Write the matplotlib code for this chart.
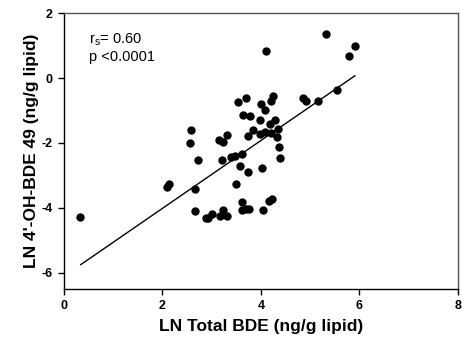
import matplotlib
matplotlib.use("Agg")
import matplotlib.pyplot as plt

# valores (LN Total BDE vs LN 4'-OH-BDE 49)
total_bde = [5.33, 4.11, 5.91, 5.79, 5.54, 5.15, 4.85, 4.91, 4.24, 4.20,
             3.70, 3.54, 4.00, 4.09, 3.63, 3.77, 3.99, 4.28, 4.18, 3.84,
             2.59, 4.35, 3.98, 4.08, 4.21, 3.74, 4.32, 3.32, 3.15, 3.23,
             2.55, 4.37, 2.72, 3.21, 3.47, 3.61, 3.40, 4.39, 3.57, 4.03,
             3.73, 0.33, 2.10, 2.14, 2.67, 3.49, 2.66, 2.88, 2.93, 3.00,
             3.17, 3.23, 3.32, 3.62, 3.61, 3.69, 3.76, 4.05, 4.16, 4.23]
oh_bde49 = [1.37, 0.84, 0.99, 0.68, -0.38, -0.70, -0.61, -0.72, -0.56, -0.72,
            -0.63, -0.74, -0.80, -0.99, -1.15, -1.16, -1.30, -1.29, -1.43, -1.60,
            -1.60, -1.58, -1.71, -1.67, -1.69, -1.80, -1.81, -1.75, -1.90, -1.98,
            -2.01, -2.12, -2.54, -2.52, -2.39, -2.34, -2.43, -2.46, -2.71, -2.76,
            -2.91, -4.28, -3.35, -3.25, -3.42, -3.28, -4.10, -4.30, -4.31, -4.19,
            -4.25, -4.07, -4.25, -3.83, -4.07, -4.04, -4.05, -4.08, -3.80, -3.73]

# recta de regresión (extremos leídos)
fit_x = [0.34, 5.91]
fit_y = [-5.75, 0.07]

x_ticks = [0, 2, 4, 6, 8]
y_ticks = [-6, -4, -2, 0, 2]

plt.rcParams["font.family"] = ["Liberation Sans", "DejaVu Sans"]
plt.rcParams["axes.unicode_minus"] = False

fig = plt.figure(figsize=(4.62, 3.54), dpi=100)
ax = fig.add_axes([0.1385, 0.1836, 0.8525, 0.7794])

ax.plot(fit_x, fit_y, color="black", lw=1.0, zorder=2)
ax.plot(total_bde, oh_bde49, "o", ms=5, color="black", mec="black", zorder=3)

ax.set_xlim(0, 8)
ax.set_ylim(-6.5, 2)
ax.set_xticks(x_ticks)
ax.set_yticks(y_ticks)
ax.tick_params(direction="out", length=4, width=1, labelsize=9, pad=4,
               top=False, right=False)
for lab in ax.get_xticklabels() + ax.get_yticklabels():
    lab.set_fontweight("bold")
for side in ["left", "bottom"]:
    ax.spines[side].set_linewidth(1.0)
for side in ["top", "right"]:
    ax.spines[side].set_linewidth(1.0)
    ax.spines[side].set_color("#555555")

ax.set_xlabel("LN Total BDE (ng/g lipid)", fontsize=12.5, fontweight="bold", labelpad=5)
ax.set_ylabel("LN 4'-OH-BDE 49 (ng/g lipid)", fontsize=12.5, fontweight="bold", labelpad=2)

ax.text(0.064, 0.935, "r$_\\mathregular{s}$= 0.60\np <0.0001", transform=ax.transAxes,
        fontsize=10.5, va="top", ha="left", linespacing=1.25)

fig.savefig("out.png", dpi=100)
